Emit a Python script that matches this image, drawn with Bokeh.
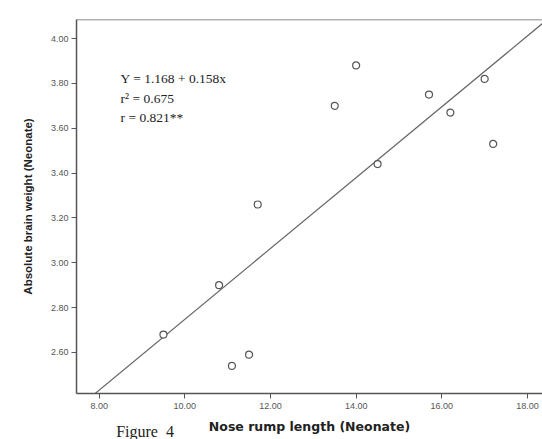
from bokeh.plotting import figure
from bokeh.models import Range1d, Label, Span, FixedTicker, LinearAxis
from bokeh.embed import file_html
from bokeh.resources import INLINE

# Data
nose_rump = [9.5, 10.8, 11.1, 11.5, 11.7, 13.5, 14.0, 14.5, 15.7, 16.2, 17.0, 17.2]
brain_wt = [2.68, 2.90, 2.54, 2.59, 3.26, 3.70, 3.88, 3.44, 3.75, 3.67, 3.82, 3.53]
intercept = 1.168
slope = 0.158
x_ticks = [8, 10, 12, 14, 16, 18]
y_ticks = [2.6, 2.8, 3.0, 3.2, 3.4, 3.6, 3.8, 4.0]
eq_lines = ["Y = 1.168 + 0.158x", "r\u00b2 = 0.675", "r = 0.821**"]
caption = "Figure\u00a0 4"
caption_x = 9.07

x0, x1 = 7.47, 18.35
y0, y1 = 2.417, 4.085

p = figure(width=542, height=439, output_backend="svg", toolbar_location=None,
           x_range=Range1d(x0, x1), y_range=Range1d(y0, y1),
           min_border_left=76, min_border_right=0, min_border_top=19,
           min_border_bottom=46)
p.background_fill_color = "white"
p.border_fill_color = "white"
p.outline_line_color = None
p.grid.visible = False

# top frame line
p.add_layout(Span(location=y1, dimension="width", line_color="#666666", line_width=1.5))

# regression line
lx = [x0, x1]
ly = [intercept + slope * v for v in lx]
p.line(lx, ly, line_color="#666666", line_width=1.2)

# data points
p.scatter(nose_rump, brain_wt, marker="circle", size=7, fill_color="white",
          line_color="#555555", line_width=1.2)

# axes styling
for ax in (p.xaxis[0], p.yaxis[0]):
    ax.axis_line_color = "#555555"
    ax.axis_line_width = 1.5
    ax.major_tick_line_color = "#555555"
    ax.major_tick_line_width = 1
    ax.major_tick_in = 0
    ax.major_tick_out = 5
    ax.minor_tick_line_color = None
    ax.major_label_text_font = "Liberation Sans"
    ax.major_label_text_font_size = "9px"
    ax.major_label_text_color = "#555555"

p.xaxis.ticker = FixedTicker(ticks=x_ticks)
p.yaxis.ticker = FixedTicker(ticks=y_ticks)
p.xaxis.major_label_overrides = {t: f"{t:.2f}" for t in x_ticks}
p.yaxis.major_label_overrides = {t: f"{t:.2f}" for t in y_ticks}
p.xaxis.major_label_standoff = 4
p.yaxis.major_label_standoff = 3

p.yaxis.axis_label = "Absolute brain weight (Neonate)"
p.yaxis.axis_label_text_font = "Liberation Sans"
p.yaxis.axis_label_text_font_style = "bold"
p.yaxis.axis_label_text_font_size = "11.5px"
p.yaxis.axis_label_text_color = "#222222"
p.yaxis.axis_label_standoff = 14

# second bottom axis: carries the caption (as its single tick label)
# and the x-axis title on the same row
cap_axis = LinearAxis(ticker=FixedTicker(ticks=[caption_x]),
                      major_label_overrides={caption_x: caption})
cap_axis.axis_line_color = None
cap_axis.major_tick_line_color = None
cap_axis.minor_tick_line_color = None
cap_axis.major_tick_in = 0
cap_axis.major_tick_out = 0
cap_axis.major_label_text_font = "Liberation Serif"
cap_axis.major_label_text_font_size = "16px"
cap_axis.major_label_text_color = "#222222"
cap_axis.major_label_standoff = 11
cap_axis.axis_label = "Nose rump length (Neonate)"
cap_axis.axis_label_text_font = "DejaVu Sans"
cap_axis.axis_label_text_font_style = "bold"
cap_axis.axis_label_text_font_size = "12.5px"
cap_axis.axis_label_text_color = "#222222"
cap_axis.axis_label_standoff = -24
p.add_layout(cap_axis, "below")

# equation text
for i, t in enumerate(eq_lines):
    p.add_layout(Label(x=8.50, y=3.82 - i * 0.087, text=t, text_font="Liberation Serif",
                       text_font_size="13.5px", text_color="#222222",
                       text_baseline="middle"))

open("out.html", "w").write(file_html(p, INLINE))
